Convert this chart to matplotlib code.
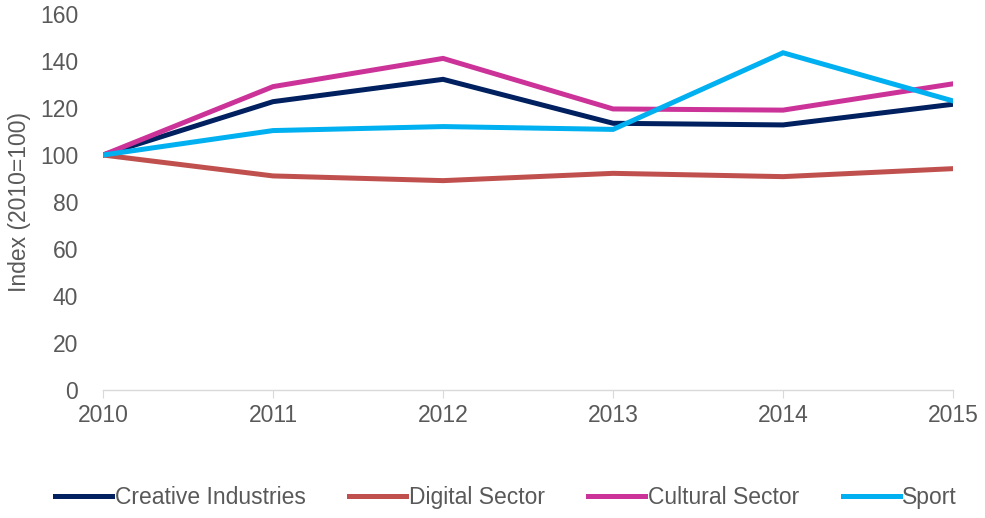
import matplotlib.pyplot as plt

plt.rcParams['font.family'] = ['Liberation Sans', 'DejaVu Sans']

years = [2010, 2011, 2012, 2013, 2014, 2015]
creative = [100, 122.7, 132.2, 113.5, 112.8, 121.6]
digital = [100, 91.1, 89.1, 92.2, 90.8, 94.2]
cultural = [100, 129.1, 141.1, 119.6, 119.1, 130.3]
sport = [100, 110.4, 112.1, 110.9, 143.5, 123.0]

series = [
    ('Creative Industries', creative, '#002060'),
    ('Digital Sector', digital, '#C0504D'),
    ('Cultural Sector', cultural, '#CC3399'),
    ('Sport', sport, '#00B0F0'),
]

fig = plt.figure(figsize=(9.85, 5.18), dpi=100)
ax = fig.add_axes([0.1046, 0.247, 0.863, 0.726])

for name, vals, col in series:
    ax.plot(years, vals, color=col, lw=3.6, label=name, solid_joinstyle='miter')

ax.set_xlim(2010, 2015)
ax.set_ylim(0, 160)
ax.set_yticks(range(0, 161, 20))
ax.set_xticks(years)
ax.set_ylabel('Index (2010=100)', fontsize=16.5, color='#595959', labelpad=6)

for s in ['top', 'right', 'left']:
    ax.spines[s].set_visible(False)
ax.spines['bottom'].set_color('#D9D9D9')
ax.spines['bottom'].set_linewidth(1)
ax.tick_params(axis='y', length=0, labelsize=16.5, labelcolor='#595959', pad=18)
ax.tick_params(axis='x', length=6, color='#D9D9D9', labelsize=16.5, labelcolor='#595959', pad=4)

ax.legend(loc='center', bbox_to_anchor=(0.474, -0.285), ncol=4, frameon=False,
          fontsize=16.5, labelcolor='#595959', handlelength=2.5, handletextpad=0.1,
          columnspacing=1.9, borderaxespad=0)

fig.savefig('out.png', dpi=100)
